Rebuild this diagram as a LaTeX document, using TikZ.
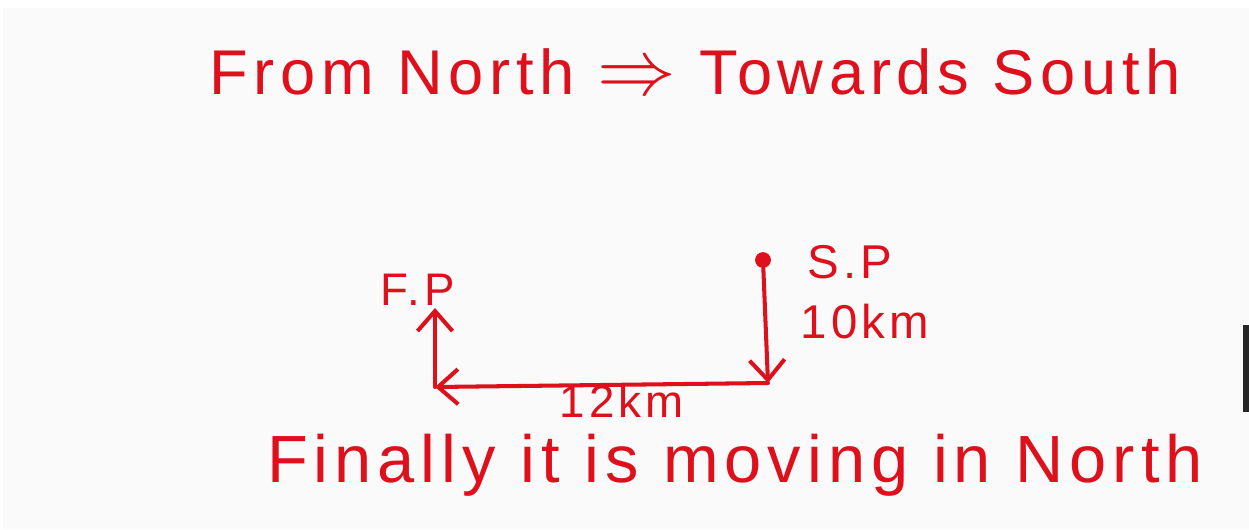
\documentclass[tikz,border=0pt]{standalone}
\usepackage{fontspec}
\setmainfont{Liberation Sans}
\newfontfamily\wideink[LetterSpace=9]{Liberation Sans}
\usetikzlibrary{arrows.meta,positioning}
\definecolor{inkred}{RGB}{222,16,28}
\definecolor{paper}{RGB}{250,250,250}

\begin{document}
\begin{tikzpicture}[x=0.02cm,y=-0.02cm,>={Straight Barb[length=4mm,width=7mm]},
    path/.style={inkred,line width=2.3pt,line cap=round},
    lbl/.style={inkred,inner sep=0pt}]
  % page and paper
  \useasboundingbox (0,0) rectangle (1249,529);
  \fill[white] (0,0) rectangle (1249,529);
  \fill[paper] (3,8) rectangle (1249,529);
  \fill[black!85] (1243,325) rectangle (1249,412);
  % heading
  \node[lbl,font=\wideink\fontsize{36}{40}\selectfont] (head) at (695,72)
       {From North \scalebox{1.8}{$\Rightarrow$} Towards South};
  % the walk
  \node[circle,fill=inkred,inner sep=0pt,minimum size=9pt] (sp) at (763,260) {};
  \coordinate (turn) at (768,383);
  \coordinate (corner) at (435,387);
  \coordinate (fp) at (435,308);
  \draw[path,->] (sp) -- (turn);
  \draw[path,->] (turn) -- (corner);
  \draw[path,->] (corner) -- (fp);
  % labels
  \node[lbl,font=\wideink\fontsize{27}{28}\selectfont] (splab) at (850,262) {S.P};
  \node[lbl,font=\wideink\fontsize{27}{28}\selectfont] (north) at (865,322) {10km};
  \node[lbl,font=\wideink\fontsize{26}{26}\selectfont] (fplab) at (418,290) {F.P};
  \node[lbl,font=\wideink\fontsize{26}{26}\selectfont] (west) at (622,401) {12km};
  \node[lbl,font=\wideink\fontsize{38}{40}\selectfont,anchor=base] (foot) at (735,482)
       {Finally it is moving in North};
\end{tikzpicture}
\end{document}
